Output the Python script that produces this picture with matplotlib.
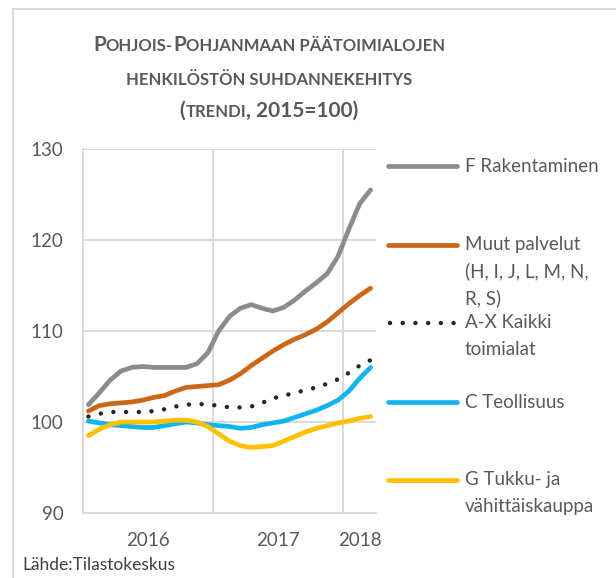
import numpy as np
from matplotlib import pyplot as plt
from matplotlib.lines import Line2D
from matplotlib.offsetbox import TextArea, HPacker, AnnotationBbox

# monthly trend indices, 2016/01 .. 2018/03 (2015=100)
years = ["2016", "2017", "2018"]
months_per_year = [12, 12, 3]

rakentaminen = [101.9, 103.2, 104.6, 105.6, 106.0, 106.1, 106.0, 106.0, 106.0, 106.0, 106.4, 107.6,
                110.0, 111.6, 112.5, 112.9, 112.5, 112.2, 112.6, 113.4, 114.4, 115.3, 116.3, 118.2,
                121.2, 124.0, 125.5]
muut_palvelut = [101.2, 101.8, 102.0, 102.1, 102.2, 102.4, 102.7, 102.9, 103.4, 103.8, 103.9, 104.0,
                 104.1, 104.6, 105.3, 106.2, 107.0, 107.8, 108.5, 109.1, 109.6, 110.2, 111.0, 112.0,
                 113.0, 113.9, 114.7]
kaikki = [100.6, 100.9, 101.1, 101.1, 101.1, 101.1, 101.2, 101.4, 101.7, 101.9, 102.0, 101.9,
          101.8, 101.6, 101.6, 101.7, 102.1, 102.6, 102.9, 103.2, 103.5, 103.8, 104.2, 104.7,
          105.4, 106.2, 106.8]
teollisuus = [100.1, 99.9, 99.7, 99.6, 99.5, 99.4, 99.4, 99.6, 99.8, 100.0, 99.9, 99.7,
              99.6, 99.5, 99.3, 99.4, 99.7, 99.9, 100.1, 100.5, 100.9, 101.3, 101.8, 102.4,
              103.4, 104.8, 106.0]
tukku = [98.5, 99.2, 99.7, 100.0, 100.0, 100.0, 100.0, 100.1, 100.2, 100.2, 100.0, 99.5,
         98.7, 97.9, 97.4, 97.2, 97.3, 97.4, 97.9, 98.4, 98.9, 99.3, 99.6, 99.9,
         100.1, 100.4, 100.6]

labels = ["F Rakentaminen", "Muut palvelut\n(H, I, J, L, M, N,\nR, S)", "A-X Kaikki\ntoimialat",
          "C Teollisuus", "G Tukku- ja\nvähittäiskauppa"]
colors = ["#8c8c8c", "#cc6619", "#262626", "#12b4ee", "#ffc000"]
series = [rakentaminen, muut_palvelut, kaikki, teollisuus, tukku]

plt.rcParams['font.family'] = ['Lato', 'DejaVu Sans']
txt_col = "#595959"

fig = plt.figure(figsize=(6.16, 5.78), dpi=100)
W, H = 616, 578
ax = fig.add_axes([83 / W, 1 - 513 / H, (376 - 83) / W, (513 - 149) / H])

x = np.arange(len(rakentaminen))
for k in [4, 3, 2, 1, 0]:
    if k == 2:
        ax.plot(x, series[k], color=colors[k], lw=3.2, ls=(0, (0.01, 2.85)),
                dash_capstyle='round', zorder=3 + k)
    else:
        ax.plot(x, series[k], color=colors[k], lw=3.4, solid_capstyle='round', zorder=3 + k)

n = sum(months_per_year)
ax.set_xlim(-0.5, n - 0.5)
ax.set_ylim(90, 130)
ax.set_yticks([90, 100, 110, 120, 130])

bounds = np.cumsum([0] + months_per_year) - 0.5
ax.set_xticks(bounds[:-1])
ax.set_xticklabels([])
centers = (bounds[:-1] + bounds[1:]) / 2
ax.set_xticks(centers, minor=True)
ax.set_xticklabels(years, minor=True)
ax.tick_params(axis='x', which='both', length=0, pad=14, labelsize=13.5, labelcolor=txt_col)
ax.tick_params(axis='y', length=0, pad=14, labelsize=13.5, labelcolor=txt_col)
ax.grid(True, which='major', color="#d9d9d9", lw=1.4)
ax.set_axisbelow(True)
for s in ["top", "right"]:
    ax.spines[s].set_visible(False)
for s in ["left", "bottom"]:
    ax.spines[s].set_color("#d9d9d9")
    ax.spines[s].set_linewidth(1.4)

# legend drawn to match the spaced-out layout of the original
leg_y = [166, 245, 323, 402, 480]
for k in range(len(labels)):
    y = 1 - leg_y[k] / H
    if k == 2:
        fig.add_artist(Line2D([390 / W, 456 / W], [y, y], color=colors[k], lw=3.2,
                              ls=(0, (0.01, 2.85)), dash_capstyle='round'))
    else:
        fig.add_artist(Line2D([388 / W, 457 / W], [y, y], color=colors[k], lw=3.4,
                              solid_capstyle='round'))
    for j, line in enumerate(labels[k].split("\n")):
        fig.text(465 / W, 1 - (leg_y[k] + j * 26.5) / H, line, fontsize=13.5, color=txt_col,
                 va='center', ha='left')


# title in small caps
def sc(parts):
    boxes = []
    for t, big in parts:
        boxes.append(TextArea(t, textprops=dict(size=15 if big else 12, weight='bold', color=txt_col)))
    return HPacker(children=boxes, align="baseline", pad=0, sep=0)


row1 = sc([("P", True), ("OHJOIS-", False), ("P", True), ("OHJANMAAN PÄÄTOIMIALOJEN", False)])
row2 = sc([("HENKILÖSTÖN SUHDANNEKEHITYS", False)])
row3 = sc([("(", True), ("TRENDI", False), (", 2015=100)", True)])
for row, yy in [(row1, 45), (row2, 80), (row3, 111)]:
    ab = AnnotationBbox(row, (269 / W, 1 - yy / H), xycoords='figure fraction', frameon=False,
                        box_alignment=(0.5, 0.5))
    fig.add_artist(ab)

fig.text(22 / W, 1 - 565 / H, "Lähde:Tilastokeskus", fontsize=12.5, color="#404040", va='center')

# chart frame (top and left edges visible)
fig.add_artist(Line2D([13 / W, 1], [1 - 9 / H, 1 - 9 / H], color="#d9d9d9", lw=1.5))
fig.add_artist(Line2D([13 / W, 13 / W], [0, 1 - 9 / H], color="#d9d9d9", lw=1.5))

fig.savefig("out.png", dpi=100)
